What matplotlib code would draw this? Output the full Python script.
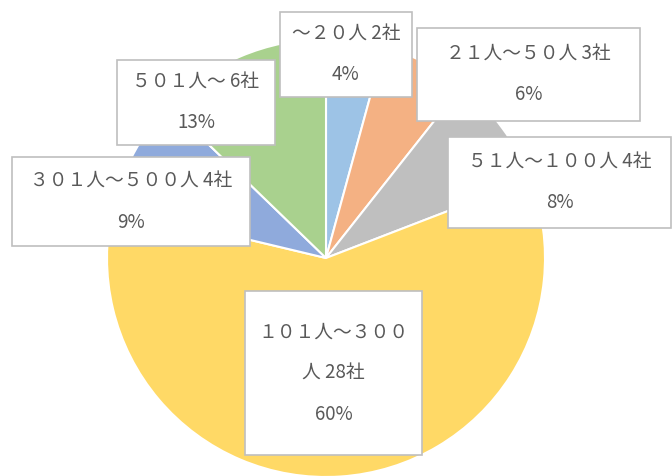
import matplotlib
matplotlib.use("Agg")
import matplotlib.pyplot as plt
from matplotlib.patches import Rectangle

plt.rcParams['font.family'] = ['Noto Sans CJK JP', 'DejaVu Sans']

categories = ["～２０人", "２１人～５０人", "５１人～１００人", "１０１人～３００\n人", "３０１人～５００人", "５０１人～"]
counts = [2, 3, 4, 28, 4, 6]
percent_labels = ["4%", "6%", "8%", "60%", "9%", "13%"]
colors = ["#9DC3E6", "#F4B183", "#BFBFBF", "#FFD966", "#8FAADC", "#A9D18E"]

W, H = 672, 476
fig = plt.figure(figsize=(W / 100, H / 100), dpi=100)
fig.patch.set_facecolor("white")

cx, cy, r = 326, 258, 219
ax = fig.add_axes([(cx - r) / W, (H - cy - r) / H, 2 * r / W, 2 * r / H])
ax.pie(counts, colors=colors, startangle=90, counterclock=False, radius=1,
       wedgeprops=dict(edgecolor="white", linewidth=1.5))
ax.set_xlim(-1, 1)
ax.set_ylim(-1, 1)
ax.axis("off")

# label boxes (left, top, right, bottom) in pixels
boxes = [
    (280, 12, 412, 97),
    (417, 28, 640, 121),
    (448, 137, 671, 228),
    (245, 291, 422, 455),
    (12, 157, 250, 246),
    (117, 60, 275, 145),
]

for cat, n, pct, (l, t, rr, b) in zip(categories, counts, percent_labels, boxes):
    fig.patches.append(Rectangle((l / W, 1 - b / H), (rr - l) / W, (b - t) / H,
                                 transform=fig.transFigure, facecolor="white",
                                 edgecolor="#BFBFBF", linewidth=1.2, zorder=5))
    text = f"{cat} {n}社\n{pct}"
    fig.text((l + rr) / 2 / W, 1 - (t + b) / 2 / H, text, ha="center", va="center",
             fontsize=13.5, color="#595959", linespacing=2.25, zorder=6,
             transform=fig.transFigure)

fig.savefig("out.png", dpi=100, facecolor="white")
